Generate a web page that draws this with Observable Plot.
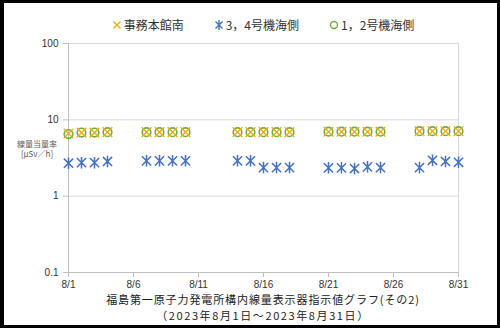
<!DOCTYPE html>
<html><head><meta charset="utf-8">
<script src="https://cdn.jsdelivr.net/npm/d3@7"></script>
<script src="https://cdn.jsdelivr.net/npm/@observablehq/plot@0.6"></script>
<style>
body{margin:0;background:#fff;}
#wrap{position:relative;width:500px;height:328px;overflow:hidden;font-family:"Noto Sans CJK JP","Noto Sans",sans-serif;background:#fff;}
#border{position:absolute;left:0;top:0;width:500px;height:328px;box-sizing:border-box;border:3px solid #000;border-left-width:4px;pointer-events:none;}
#legend{position:absolute;top:17px;left:0;width:526px;display:flex;justify-content:center;gap:30px;font-size:12px;color:#333;line-height:16px;}
#legend .item{display:flex;align-items:center;gap:2px;white-space:nowrap;}
#chart{position:absolute;top:36px;left:0;}
#ylabel{position:absolute;left:12px;width:50px;top:139px;text-align:center;font-size:8px;line-height:10px;color:#595959;}
.tl{position:absolute;left:68px;width:390px;text-align:center;font-size:11px;line-height:16px;color:#222;white-space:nowrap;}
#t1{top:291px;letter-spacing:0.9px;}
#t2{top:307px;letter-spacing:1.6px;}
</style></head>
<body>
<div id="wrap">
  <div id="legend"></div>
  <div id="chart"></div>
  <div id="ylabel"></div>
  <div id="t1" class="tl"></div>
  <div id="t2" class="tl"></div>
  <div id="border"></div>
</div>
<script>
// ---- data ----
const days = [1,2,3,4, 7,8,9,10, 14,15,16,17,18, 21,22,23,24,25, 28,29,30,31];
const seriesNames = ["事務本館南", "3，4号機海側", "1，2号機海側"];
const jimuHonkanMinami = [6.6,6.8,6.8,6.9, 6.9,6.9,6.9,6.9, 6.9,6.9,6.9,6.9,6.9, 7.0,7.0,7.0,7.0,7.0, 7.1,7.1,7.1,7.1];
const unit34Kaigawa   = [2.7,2.75,2.75,2.85, 2.9,2.9,2.9,2.9, 2.9,2.9,2.37,2.37,2.37, 2.35,2.35,2.3,2.42,2.37, 2.37,2.95,2.85,2.78];
const unit12Kaigawa   = [6.5,6.8,6.8,6.9, 6.9,6.9,6.9,6.9, 6.9,6.9,6.9,6.9,6.9, 7.0,7.0,7.0,7.0,7.0, 7.1,7.1,7.1,7.1];
const xTicks = [1,6,11,16,21,26,31];
const xTickLabels = ["8/1","8/6","8/11","8/16","8/21","8/26","8/31"];
const yTicks = [0.1,1,10,100];
const yTickLabels = ["0.1","1","10","100"];
const yTitle = ["線量当量率","[μSv／h]"];
const titleLines = ["福島第一原子力発電所構内線量表示器指示値グラフ(その2)","（2023年8月1日～2023年8月31日）"];
const colors = ["#F2A900","#4472C4","#70AD47"];

// ---- custom marker symbols ----
const timesSym = {draw(ctx,size){const r=Math.sqrt(size/Math.PI);ctx.moveTo(-r,-r);ctx.lineTo(r,r);ctx.moveTo(-r,r);ctx.lineTo(r,-r);}};
const starSym = {draw(ctx,size){const r=Math.sqrt(size/Math.PI);ctx.moveTo(0,-r*1.25);ctx.lineTo(0,r*1.25);ctx.moveTo(-r,-r);ctx.lineTo(r,r);ctx.moveTo(-r,r);ctx.lineTo(r,-r);}};

const rows = days.map((d,i)=>({day:d, a:jimuHonkanMinami[i], b:unit34Kaigawa[i], c:unit12Kaigawa[i]}));

const chart = Plot.plot({
  width:500, height:256,
  marginLeft:68, marginRight:42, marginTop:7, marginBottom:20,
  style:{fontFamily:"'Liberation Sans','Noto Sans',sans-serif", fontSize:"10px", color:"#333", background:"transparent"},
  x:{type:"linear", domain:[1,31]},
  y:{type:"log", domain:[0.1,100]},
  marks:[
    Plot.ruleY(yTicks,{stroke:"#d9d9d9", strokeWidth:1}),
    Plot.ruleX([31],{stroke:"#d9d9d9", strokeWidth:1}),
    Plot.ruleX([1],{stroke:"#bfbfbf", strokeWidth:1}),
    Plot.ruleY([0.1],{stroke:"#bfbfbf", strokeWidth:1}),
    Plot.axisX({ticks:xTicks, tickFormat:(d)=>xTickLabels[xTicks.indexOf(d)], tickSize:5, tickPadding:3, stroke:"#bfbfbf", label:null, fill:"#333"}),
    Plot.axisY({ticks:yTicks, tickFormat:(d)=>yTickLabels[yTicks.indexOf(d)], tickSize:5, tickPadding:5, stroke:"#bfbfbf", label:null, fill:"#333"}),
    Plot.dot(rows,{x:"day", y:"b", symbol:starSym, r:4.6, stroke:colors[1], strokeWidth:1.5}),
    Plot.dot(rows,{x:"day", y:"c", symbol:"circle", r:4.3, stroke:colors[2], strokeWidth:1.6, fill:"none"}),
    Plot.dot(rows,{x:"day", y:"a", symbol:timesSym, r:4.8, stroke:colors[0], strokeWidth:1.3})
  ]
});
document.getElementById("chart").appendChild(chart);

// legend
const legendSyms = [
  '<path d="M1.5,1.5L8.5,8.5M1.5,8.5L8.5,1.5" stroke="'+colors[0]+'" stroke-width="1.4" fill="none"/>',
  '<path d="M5,0L5,10M1.5,1.5L8.5,8.5M1.5,8.5L8.5,1.5" stroke="'+colors[1]+'" stroke-width="1.4" fill="none"/>',
  '<circle cx="5" cy="5" r="3.5" stroke="'+colors[2]+'" stroke-width="1.4" fill="none"/>'
];
const lg = document.getElementById("legend");
seriesNames.forEach((n,i)=>{
  const it=document.createElement("div");it.className="item";
  it.innerHTML='<svg width="10" height="10">'+legendSyms[i]+'</svg><span>'+n+'</span>';
  lg.appendChild(it);
});
document.getElementById("ylabel").innerHTML = yTitle.join("<br>");
document.getElementById("t1").textContent = titleLines[0];
document.getElementById("t2").textContent = titleLines[1];
</script>
</body></html>
